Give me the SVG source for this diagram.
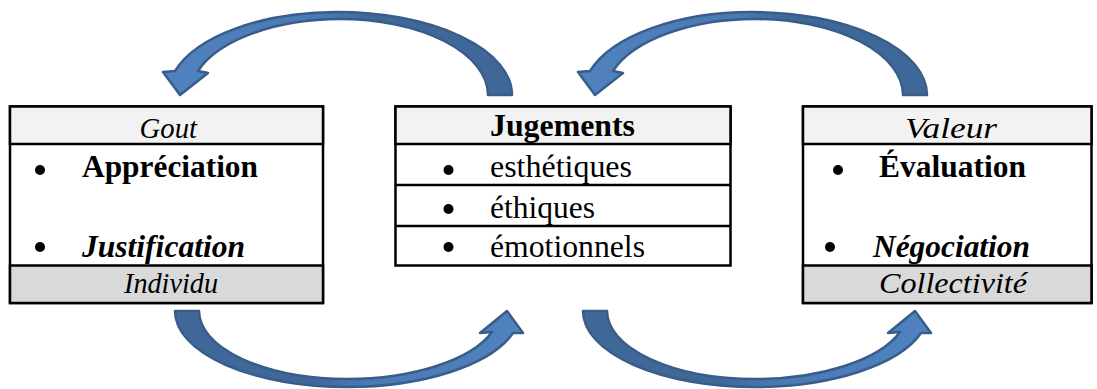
<svg xmlns="http://www.w3.org/2000/svg" width="1097" height="389" viewBox="0 0 1097 389">
<defs>
<linearGradient id="gTop" gradientUnits="userSpaceOnUse" x1="165" y1="0" x2="512" y2="0">
<stop offset="0" stop-color="#5082bf"/>
<stop offset="0.45" stop-color="#4a7ab4"/>
<stop offset="0.6" stop-color="#3f6899"/>
<stop offset="1" stop-color="#3f6899"/>
</linearGradient>
<linearGradient id="gBot" gradientUnits="userSpaceOnUse" x1="175" y1="0" x2="523" y2="0">
<stop offset="0" stop-color="#3f6899"/>
<stop offset="0.4" stop-color="#3f6899"/>
<stop offset="0.55" stop-color="#4a7ab4"/>
<stop offset="1" stop-color="#5082bf"/>
</linearGradient>
<path id="arrTop" d="M 512 95 A 175 83 0 0 0 337 12 A 169 83 0 0 0 175 71 L 163 72 L 180 95 L 208 73 L 198 71 A 150 76 0 0 1 340 19 A 148 76 0 0 1 488 95 Z"/>
<path id="arrBot" d="M 175 311 A 172 76 0 0 0 347 387 A 174 76 0 0 0 513 333 L 523 333 L 507 311 L 480 333 L 492 332 A 153 68 0 0 1 347 379 A 148 68 0 0 1 199 311 Z"/>
<circle id="dot" cx="0" cy="0" r="5" fill="#000000"/>
</defs>

<g id="connectors" stroke="#385d8a" stroke-width="2.5" stroke-linejoin="round">
<use href="#arrTop" fill="url(#gTop)"/>
<use href="#arrTop" fill="url(#gTop)" transform="translate(415,0)"/>
<use href="#arrBot" fill="url(#gBot)"/>
<use href="#arrBot" fill="url(#gBot)" transform="translate(408,0)"/>
</g>

<g id="node-gout">
<rect x="10" y="106.5" width="313" height="196.5" fill="#ffffff" stroke="#000000" stroke-width="2.5"/>
<rect x="10" y="106.5" width="313" height="37.5" fill="#f2f2f2" stroke="#000000" stroke-width="2.5"/>
<rect x="10" y="265.5" width="313" height="37.5" fill="#d9d9d9" stroke="#000000" stroke-width="2.5"/>
<text font-family="Liberation Serif" font-size="30" font-style="italic" x="139.5" y="138" textLength="57.5" lengthAdjust="spacingAndGlyphs">Gout</text>
<use href="#dot" x="40" y="170"/>
<text font-family="Liberation Serif" font-size="31" font-weight="bold" x="82" y="177" textLength="176" lengthAdjust="spacingAndGlyphs">Appréciation</text>
<use href="#dot" x="40" y="247"/>
<text font-family="Liberation Serif" font-size="31" font-weight="bold" font-style="italic" x="82" y="257" textLength="163" lengthAdjust="spacingAndGlyphs">Justification</text>
<text font-family="Liberation Serif" font-size="30" font-style="italic" x="124" y="293" textLength="94" lengthAdjust="spacingAndGlyphs">Individu</text>
</g>

<g id="node-jugements">
<rect x="395.5" y="106.5" width="335" height="159" fill="#ffffff" stroke="#000000" stroke-width="2.5"/>
<rect x="395.5" y="106.5" width="335" height="37.5" fill="#f2f2f2" stroke="#000000" stroke-width="2.5"/>
<line x1="395.5" y1="185" x2="730.5" y2="185" stroke="#000000" stroke-width="2.5"/>
<line x1="395.5" y1="226" x2="730.5" y2="226" stroke="#000000" stroke-width="2.5"/>
<text font-family="Liberation Serif" font-size="31" font-weight="bold" x="490" y="136" textLength="145" lengthAdjust="spacingAndGlyphs">Jugements</text>
<use href="#dot" x="448.5" y="170"/>
<text font-family="Liberation Serif" font-size="31" x="490" y="177" textLength="142" lengthAdjust="spacingAndGlyphs">esthétiques</text>
<use href="#dot" x="448.5" y="209"/>
<text font-family="Liberation Serif" font-size="31" x="490" y="217.5" textLength="105" lengthAdjust="spacingAndGlyphs">éthiques</text>
<use href="#dot" x="448.5" y="247"/>
<text font-family="Liberation Serif" font-size="31" x="490" y="256.5" textLength="155" lengthAdjust="spacingAndGlyphs">émotionnels</text>
</g>

<g id="node-valeur">
<rect x="803" y="106.5" width="288.5" height="196.5" fill="#ffffff" stroke="#000000" stroke-width="2.5"/>
<rect x="803" y="106.5" width="288.5" height="37.5" fill="#f2f2f2" stroke="#000000" stroke-width="2.5"/>
<rect x="803" y="265.5" width="288.5" height="37.5" fill="#d9d9d9" stroke="#000000" stroke-width="2.5"/>
<text font-family="Liberation Serif" font-size="30" font-style="italic" x="905" y="138" textLength="92" lengthAdjust="spacingAndGlyphs">Valeur</text>
<use href="#dot" x="838" y="170"/>
<text font-family="Liberation Serif" font-size="31" font-weight="bold" x="879" y="177" textLength="147" lengthAdjust="spacingAndGlyphs">Évaluation</text>
<use href="#dot" x="830" y="247"/>
<text font-family="Liberation Serif" font-size="31" font-weight="bold" font-style="italic" x="873" y="257" textLength="157" lengthAdjust="spacingAndGlyphs">Négociation</text>
<text font-family="Liberation Serif" font-size="30" font-style="italic" x="879" y="293" textLength="148" lengthAdjust="spacingAndGlyphs">Collectivité</text>
</g>
</svg>
